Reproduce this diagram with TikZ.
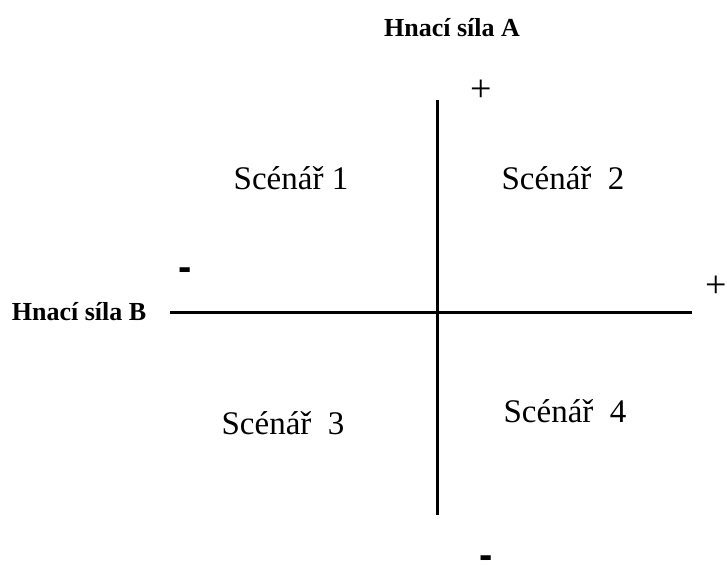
\documentclass[tikz,border=0pt]{standalone}
\usepackage{fontspec}
\setmainfont{Liberation Serif}
\newfontfamily\minusfont{Liberation Sans}
\usetikzlibrary{positioning}

\begin{document}
\begin{tikzpicture}[
  x=0.5pt, y=-0.5pt,
  axis/.style={line width=1.5pt},
  title/.style={font=\fontsize{13}{15}\selectfont\bfseries, inner sep=0pt},
  scen/.style={font=\fontsize{16.5}{18}\selectfont, inner sep=0pt},
  plus/.style={font=\fontsize{19}{21}\selectfont, inner sep=0pt},
  minus/.style={font=\fontsize{20}{22}\selectfont\minusfont\bfseries, inner sep=0pt}
]
\useasboundingbox (0,0) rectangle (727,565);
% axes end points
\coordinate (top) at (437,100);
\coordinate (bot) at (437,515);
\coordinate (lft) at (170,313);
\coordinate (rgt) at (692,313);
\draw[axis] (top) -- (bot);
\draw[axis] (lft) -- (rgt);
% labels of the driving forces
\node[title] (sa) at (452,28) {Hnací síla A};
\node[title] (sb) at (79,312) {Hnací síla B};
\node[plus] (pa) at (481,91) {+};
\node[plus] (pb) at (716,287) {+};
\node[minus] (mb) at (185,274) {-};
\node[minus] (ma) at (486,562) {-};
% scenarios
\node[scen] (s1) at (291,178) {Scénář 1};
\node[scen] (s2) at (563,178) {Scénář \ 2};
\node[scen] (s3) at (283,423) {Scénář \ 3};
\node[scen] (s4) at (565,411) {Scénář \ 4};
\end{tikzpicture}
\end{document}
